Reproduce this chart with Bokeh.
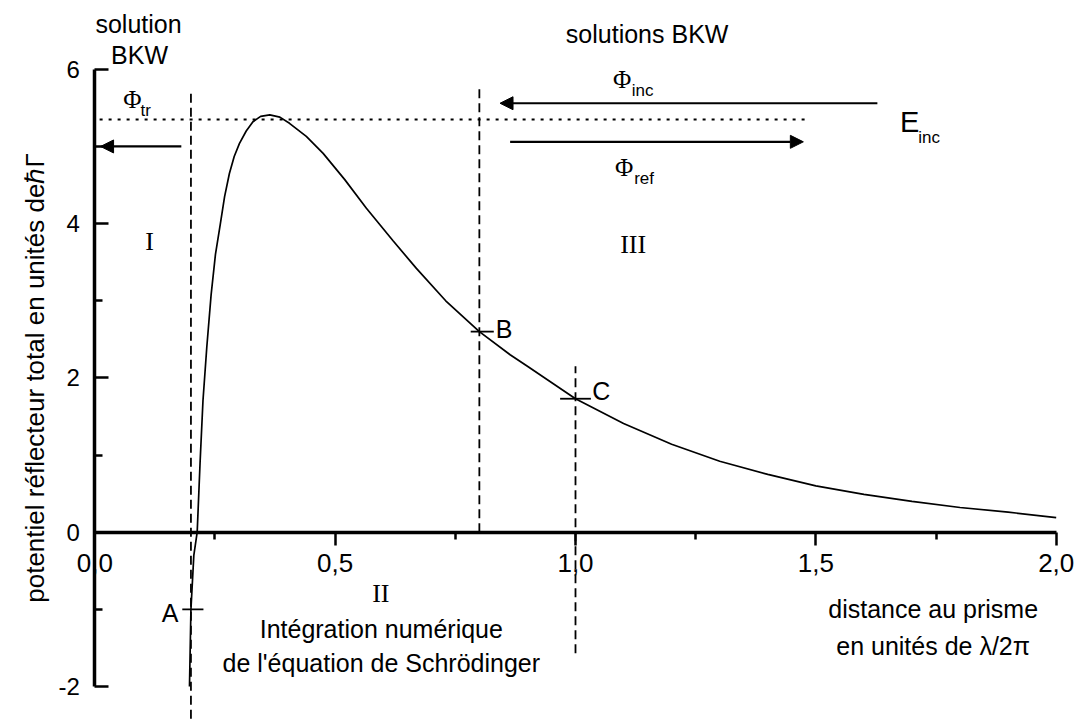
from bokeh.plotting import figure
from bokeh.models import (FixedTicker, CustomJSTickFormatter, Arrow, NormalHead,
                          Range1d, ColumnDataSource)
from bokeh.core.properties import value
from bokeh.embed import file_html
from bokeh.resources import INLINE

# ---------------- data ----------------
curve_x = [0.197, 0.200, 0.206, 0.213, 0.219, 0.225, 0.233, 0.242, 0.251, 0.261,
           0.270, 0.280, 0.290, 0.301, 0.315, 0.329, 0.345, 0.364, 0.385, 0.405,
           0.440, 0.475, 0.520, 0.565, 0.620, 0.669, 0.730, 0.800, 0.864, 0.900,
           1.000, 1.100, 1.200, 1.300, 1.400, 1.500, 1.600, 1.700, 1.800, 1.900, 2.000]
curve_y = [-2.00, -1.00, -0.30, 0.00, 0.90, 1.70, 2.40, 3.08, 3.60, 3.99,
           4.35, 4.65, 4.87, 5.04, 5.20, 5.32, 5.39, 5.41, 5.38, 5.30,
           5.13, 4.91, 4.57, 4.20, 3.78, 3.42, 3.00, 2.60, 2.30, 2.15,
           1.73, 1.41, 1.14, 0.92, 0.75, 0.60, 0.49, 0.40, 0.32, 0.26, 0.19]

x_ticks = [0.0, 0.5, 1.0, 1.5, 2.0]
x_minor = [0.25, 0.75, 1.25, 1.75]
y_ticks = [-2, 0, 2, 4, 6]
y_minor = [-1, 1, 3, 5]

# dashed boundaries (x, y from, y to)
vline_x = [0.2, 0.8, 1.0]
vline_y0 = [-2.6, 0.0, -1.57]
vline_y1 = [5.71, 5.75, 2.15]

# incident energy level (dotted)
e_inc = 5.35
e_inc_x = [0.01, 1.484]

# arrows: Phi_tr, Phi_inc, Phi_ref
arr_x0 = [0.180, 1.628, 0.864]
arr_x1 = [0.012, 0.843, 1.474]
arr_y = [5.00, 5.56, 5.06]

# points A, B, C
pt_name = ["A", "B", "C"]
pt_x = [0.204, 0.806, 1.000]
pt_y = [-1.00, 2.60, 1.73]
pt_half = [0.022, 0.024, 0.032]

# ---------------- figure ----------------
p = figure(width=1077, height=722, output_backend="svg", toolbar_location=None,
           x_range=Range1d(-0.19617, 2.04431), y_range=Range1d(-2.4666, 6.8918),
           min_border=0, outline_line_color=None, background_fill_color="white")
p.grid.visible = False

SANS = "Liberation Sans"
SERIF = "Liberation Serif"

xa = p.xaxis[0]
xa.fixed_location = 0
xa.bounds = (0, 2)
xa.ticker = FixedTicker(ticks=x_ticks, minor_ticks=x_minor)
xa.formatter = CustomJSTickFormatter(code="return tick.toFixed(1).replace('.', ',');")
xa.axis_line_width = 3.5
xa.major_tick_line_width = 2.5
xa.minor_tick_line_width = 2.5
xa.major_tick_in = 0
xa.major_tick_out = 13
xa.minor_tick_in = 0
xa.minor_tick_out = 7
xa.major_label_standoff = 9
xa.major_label_text_font = SANS
xa.major_label_text_font_size = "26px"
xa.major_label_text_color = "black"

ya = p.yaxis[0]
ya.fixed_location = 0
ya.bounds = (-2, 6)
ya.ticker = FixedTicker(ticks=y_ticks, minor_ticks=y_minor)
ya.formatter = CustomJSTickFormatter(code="return tick.toFixed(0);")
ya.axis_line_width = 3.5
ya.major_tick_line_width = 2.5
ya.minor_tick_line_width = 2.5
ya.major_tick_in = 14
ya.major_tick_out = 0
ya.minor_tick_in = 8
ya.minor_tick_out = 0
ya.major_label_standoff = 15
ya.major_label_text_font = SANS
ya.major_label_text_font_size = "24px"
ya.major_label_text_color = "black"
ya.axis_label = "potentiel réflecteur total en unités deℏΓ"
ya.axis_label_text_font = SANS
ya.axis_label_text_font_size = "26px"
ya.axis_label_text_font_style = "normal"
ya.axis_label_standoff = 5
ya.axis_label_text_color = "black"

# curve
p.line(curve_x, curve_y, line_color="black", line_width=1.7)

# dashed vertical lines
p.segment(x0=vline_x, y0=vline_y0, x1=vline_x, y1=vline_y1,
          line_color="black", line_width=1.8, line_dash="9 5")

# dotted energy line
p.segment(x0=[e_inc_x[0]], y0=[e_inc], x1=[e_inc_x[1]], y1=[e_inc],
          line_color="black", line_width=2, line_dash="3 6")

# arrows
asrc = ColumnDataSource(dict(x0=arr_x0, x1=arr_x1, y=arr_y))
p.add_layout(Arrow(source=asrc, x_start="x0", y_start="y", x_end="x1", y_end="y",
                   line_color="black", line_width=2.2,
                   end=NormalHead(size=13, fill_color="black", line_color="black")))

# crosses at A, B, C
p.segment(x0=[x - h for x, h in zip(pt_x, pt_half)], y0=pt_y,
          x1=[x + h for x, h in zip(pt_x, pt_half)], y1=pt_y,
          line_color="black", line_width=1.8)

# point labels
p.text(x=[0.174], y=[-1.05], text=["A"], text_align="right", text_baseline="middle",
       text_font=value(SANS), text_font_size="25px", text_color="black")
p.text(x=[0.834, 1.035], y=[2.63, 1.83], text=["B", "C"], text_align="left",
       text_baseline="middle", text_font=value(SANS), text_font_size="25px",
       text_color="black")

# region numerals
p.text(x=[0.114, 1.12, 0.595], y=[3.77, 3.73, -0.80], text=["I", "III", "II"],
       text_align="center", text_baseline="middle", text_font=value(SERIF),
       text_font_size="26px", text_color="black")

# annotations (sans)
ann_x = [0.091, 0.093, 1.149, 0.596, 0.596, 1.744, 1.744]
ann_y = [6.59, 6.18, 6.46, -1.25, -1.70, -1.00, -1.47]
ann_t = ["solution", "BKW", "solutions BKW", "Intégration numérique",
         "de l'équation de Schrödinger", "distance au prisme", "en unités de λ/2π"]
p.text(x=ann_x, y=ann_y, text=ann_t, text_align="center", text_baseline="middle",
       text_font=value(SANS), text_font_size="25px", text_color="black")

# Phi symbols (serif) and subscripts
p.text(x=[0.078, 1.097, 1.101], y=[5.61, 5.87, 4.73], text=["Φ", "Φ", "Φ"],
       text_align="center", text_baseline="middle", text_font=value(SERIF),
       text_font_size="25px", text_color="black")
p.text(x=[0.095, 1.117, 1.122], y=[5.46, 5.73, 4.58], text=["tr", "inc", "ref"],
       text_align="left", text_baseline="middle", text_font=value(SANS),
       text_font_size="17px", text_color="black")

# E_inc
p.text(x=[1.695], y=[5.32], text=["E"], text_align="center", text_baseline="middle",
       text_font=value(SANS), text_font_size="29px", text_color="black")
p.text(x=[1.713], y=[5.12], text=["inc"], text_align="left", text_baseline="middle",
       text_font=value(SANS), text_font_size="17px", text_color="black")

open("out.html", "w").write(file_html(p, INLINE))
